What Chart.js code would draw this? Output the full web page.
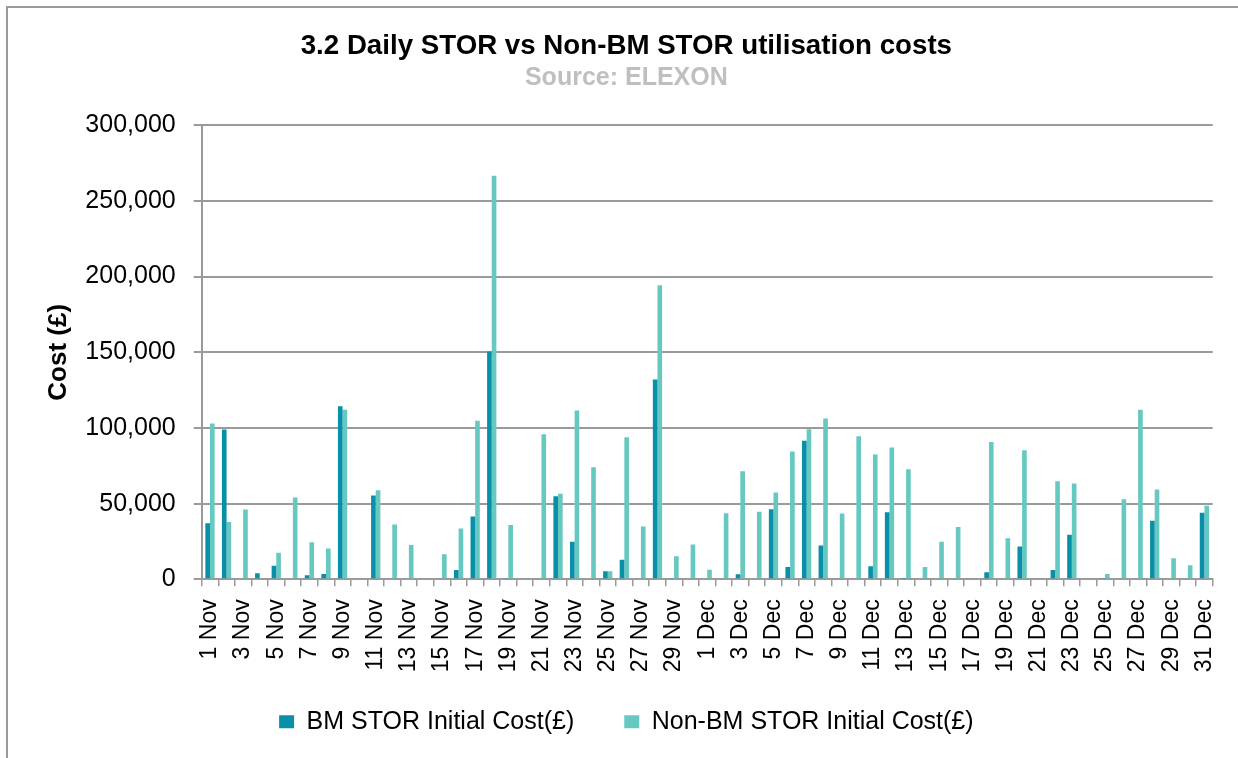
<!DOCTYPE html>
<html>
<head>
<meta charset="utf-8">
<script src="https://cdn.jsdelivr.net/npm/chart.js@4.4.0/dist/chart.umd.min.js"></script>
<style>
  html, body { margin: 0; padding: 0; background: #ffffff; }
  #wrap { width: 1238px; height: 758px; position: relative; }
</style>
</head>
<body>
<div id="wrap"><canvas id="c" width="1238" height="758"></canvas></div>
<script>
const categories = [
  '1 Nov','2 Nov','3 Nov','4 Nov','5 Nov','6 Nov','7 Nov','8 Nov','9 Nov','10 Nov',
  '11 Nov','12 Nov','13 Nov','14 Nov','15 Nov','16 Nov','17 Nov','18 Nov','19 Nov','20 Nov',
  '21 Nov','22 Nov','23 Nov','24 Nov','25 Nov','26 Nov','27 Nov','28 Nov','29 Nov','30 Nov',
  '1 Dec','2 Dec','3 Dec','4 Dec','5 Dec','6 Dec','7 Dec','8 Dec','9 Dec','10 Dec',
  '11 Dec','12 Dec','13 Dec','14 Dec','15 Dec','16 Dec','17 Dec','18 Dec','19 Dec','20 Dec',
  '21 Dec','22 Dec','23 Dec','24 Dec','25 Dec','26 Dec','27 Dec','28 Dec','29 Dec','30 Dec','31 Dec'
];

const bmStorCost = [
  37000, 99000, 0, 4000, 9000, 0, 2600, 3500, 114300, 0,
  55400, 0, 0, 0, 0, 6150, 41500, 150500, 500, 0,
  0, 54900, 24800, 0, 5300, 12950, 0, 132000, 500, 0,
  0, 0, 3300, 0, 46350, 8100, 91600, 22400, 0, 0,
  8570, 44370, 300, 0, 0, 0, 0, 4600, 0, 21750,
  0, 6130, 29400, 0, 900, 0, 0, 38650, 0, 0, 43900
];

const nonBmStorCost = [
  103000, 37800, 46100, 0, 17550, 54000, 24400, 20400, 112000, 0,
  58900, 36250, 22600, 0, 16500, 33600, 104800, 266600, 35800, 0,
  95800, 56450, 111600, 74000, 5300, 93800, 34900, 194200, 15150, 23000,
  6350, 43700, 71400, 44600, 57350, 84400, 99100, 106300, 43500, 94500,
  82400, 87000, 72700, 8100, 24800, 34500, 0, 90700, 27200, 85250,
  0, 64800, 63300, 0, 3500, 52950, 112100, 59300, 13850, 9230, 48550
];

const seriesNames = ['BM STOR Initial Cost(£)', 'Non-BM STOR Initial Cost(£)'];
const titleText = '3.2 Daily STOR vs Non-BM STOR utilisation costs';
const subtitleText = 'Source: ELEXON';
const yTitle = 'Cost (£)';
const yMin = 0, yMax = 300000, yStep = 50000;

const FONT = "'Liberation Sans', Arial, sans-serif";
const GRID = '#9a9a9a';

const framePlugin = {
  id: 'frame',
  afterLayout(chart) {
    // lift the legend row closer to the axis labels (keeps wide item spacing)
    const lg = chart.legend;
    if (lg) { lg.top -= 20; }
  },
  afterDraw(chart) {
    const ctx = chart.ctx;
    ctx.save();
    ctx.strokeStyle = '#9a9a9a';
    ctx.lineWidth = 2;
    ctx.beginPath();
    ctx.moveTo(7, 758);
    ctx.lineTo(7, 7);
    ctx.lineTo(1238, 7);
    ctx.stroke();
    ctx.restore();
  }
};

new Chart(document.getElementById('c'), {
  type: 'bar',
  data: {
    labels: categories,
    datasets: [
      {
        label: seriesNames[0],
        data: bmStorCost,
        backgroundColor: '#0a8fa8',
        borderWidth: 0,
        categoryPercentage: 0.56,
        barPercentage: 1.0
      },
      {
        label: seriesNames[1],
        data: nonBmStorCost,
        backgroundColor: '#66c9c1',
        borderWidth: 0,
        categoryPercentage: 0.56,
        barPercentage: 1.0
      }
    ]
  },
  options: {
    responsive: false,
    animation: false,
    devicePixelRatio: 1,
    layout: { padding: { left: 40, right: 25.3, top: 30, bottom: 13.7 } },
    plugins: {
      title: {
        display: true,
        text: titleText,
        color: '#000000',
        font: { family: FONT, size: 27.7, weight: 'bold' },
        padding: { top: 0, bottom: 0 }
      },
      subtitle: {
        display: true,
        text: subtitleText,
        color: '#bfbfbf',
        font: { family: FONT, size: 25, weight: 'bold' },
        padding: { top: 0, bottom: 32 }
      },
      legend: {
        display: true,
        position: 'bottom',
        maxHeight: 65,
        labels: {
          font: { family: FONT, size: 25 },
          color: '#000000',
          boxWidth: 15,
          boxHeight: 13,
          padding: 50
        }
      },
      tooltip: { enabled: false }
    },
    scales: {
      x: {
        afterFit: (s) => { s.height = 100; s.paddingLeft = 0; s.paddingRight = 0; },
        grid: {
          display: true,
          drawOnChartArea: false,
          drawTicks: true,
          tickLength: 7,
          color: GRID,
          lineWidth: 1.5,
          offset: true
        },
        border: { display: true, color: GRID, width: 2 },
        ticks: {
          autoSkip: false,
          maxRotation: 90,
          minRotation: 90,
          padding: 13,
          color: '#000000',
          font: { family: FONT, size: 23 },
          callback: function (value, index) {
            return index % 2 === 0 ? this.getLabelForValue(value) : '';
          }
        }
      },
      y: {
        min: yMin,
        max: yMax,
        afterFit: (s) => { s.width = 161.7; },
        ticks: {
          stepSize: yStep,
          padding: 18,
          color: '#000000',
          font: { family: FONT, size: 25 },
          callback: (v) => Number(v).toLocaleString('en-US')
        },
        grid: {
          color: GRID,
          lineWidth: 2,
          tickLength: 8
        },
        border: { display: true, color: GRID, width: 2 },
        title: {
          display: true,
          text: yTitle,
          color: '#000000',
          font: { family: FONT, size: 26, weight: 'bold' },
          padding: { top: 3, bottom: 0 }
        }
      }
    }
  },
  plugins: [framePlugin]
});
</script>
</body>
</html>
